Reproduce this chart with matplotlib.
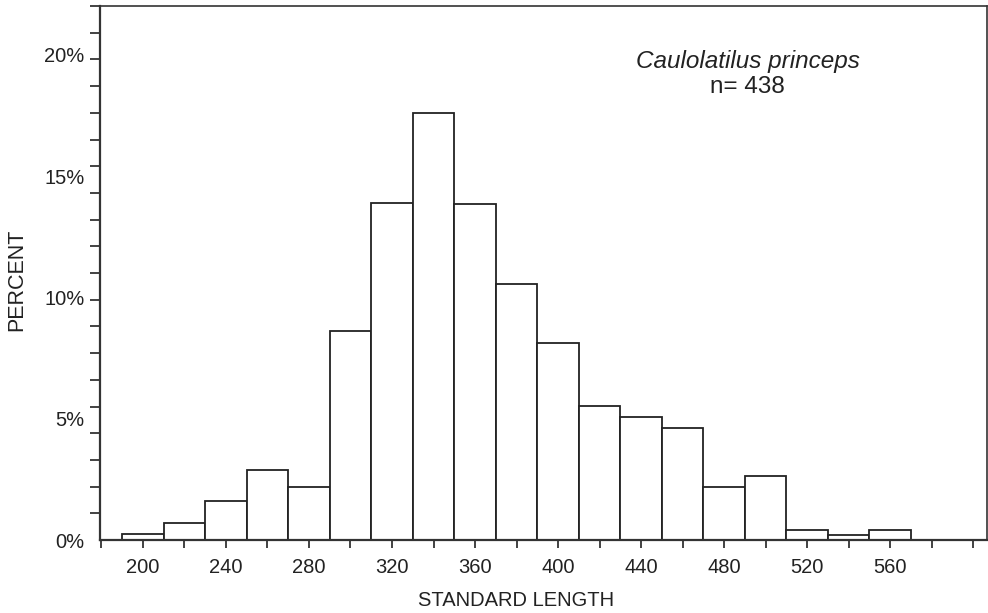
import numpy as np
import matplotlib
matplotlib.use("Agg")
import matplotlib.pyplot as plt

# histogram of standard length, bins of 20 starting at 190
bin_left = [190, 210, 230, 250, 270, 290, 310, 330, 350, 370,
            390, 410, 430, 450, 470, 490, 510, 530, 550]
percent = [0.25, 0.7, 1.6, 2.9, 2.2, 8.6, 13.9, 17.6, 13.87, 10.56,
           8.14, 5.53, 5.06, 4.6, 2.2, 2.62, 0.4, 0.2, 0.4]
x_ticks = [200, 240, 280, 320, 360, 400, 440, 480, 520, 560]
y_labels = [0, 5, 10, 15, 20]
species = "Caulolatilus princeps"
n_fish = 438

plt.rcParams['font.family'] = ['Liberation Sans', 'DejaVu Sans']

fig = plt.figure(figsize=(9.88, 6.13), dpi=100)
W, H = 988, 613
ax = fig.add_axes([100 / W, (H - 540) / H, 887 / W, 534 / H])

ax.bar(bin_left, percent, width=20, align='edge', facecolor='white',
       edgecolor='#222222', linewidth=1.3)

ax.set_xlim(179.3, 606.7)
ytop = 22.02
ax.set_ylim(0, ytop)

# x axis: labelled ticks every 40, unlabelled in between
ax.set_xticks(x_ticks)
ax.set_xticklabels([str(v) for v in x_ticks])
ax.set_xticks(np.arange(180, 601, 20), minor=True)
ax.tick_params(axis='x', which='both', direction='out', length=6,
               width=1.2, color='#222222', labelsize=14.5, pad=7,
               labelcolor='#222222')

# y axis: evenly spaced tick marks, labels placed separately
ax.set_yticks(y_labels)
ax.set_yticklabels([f"{v}%" for v in y_labels])
ax.set_yticks(np.linspace(0, ytop, 21), minor=True)
ax.tick_params(axis='y', which='major', length=0, labelsize=14.5, pad=11,
               labelcolor='#222222')
ax.tick_params(axis='y', which='minor', direction='out', length=7,
               width=1.2, color='#222222')

for s in ax.spines.values():
    s.set_linewidth(1.2)
    s.set_color('#333333')
ax.spines['left'].set_linewidth(1.6)
ax.spines['bottom'].set_linewidth(1.6)

ax.text(0.73, 0.897, species, transform=ax.transAxes, fontsize=17.5,
        style='italic', ha='center', va='center', color='#222222')
ax.text(0.73, 0.848, f"n= {n_fish}", transform=ax.transAxes, fontsize=17.5,
        ha='center', va='center', color='#222222')

fig.text(17 / W, 1 - 280 / H, "PERCENT", rotation=90, ha='center',
         va='center', fontsize=15.5, color='#222222')
fig.text(516 / W, 1 - 600 / H, "STANDARD LENGTH", ha='center',
         va='center', fontsize=14.5, color='#222222')

fig.savefig("out.png", dpi=100)
